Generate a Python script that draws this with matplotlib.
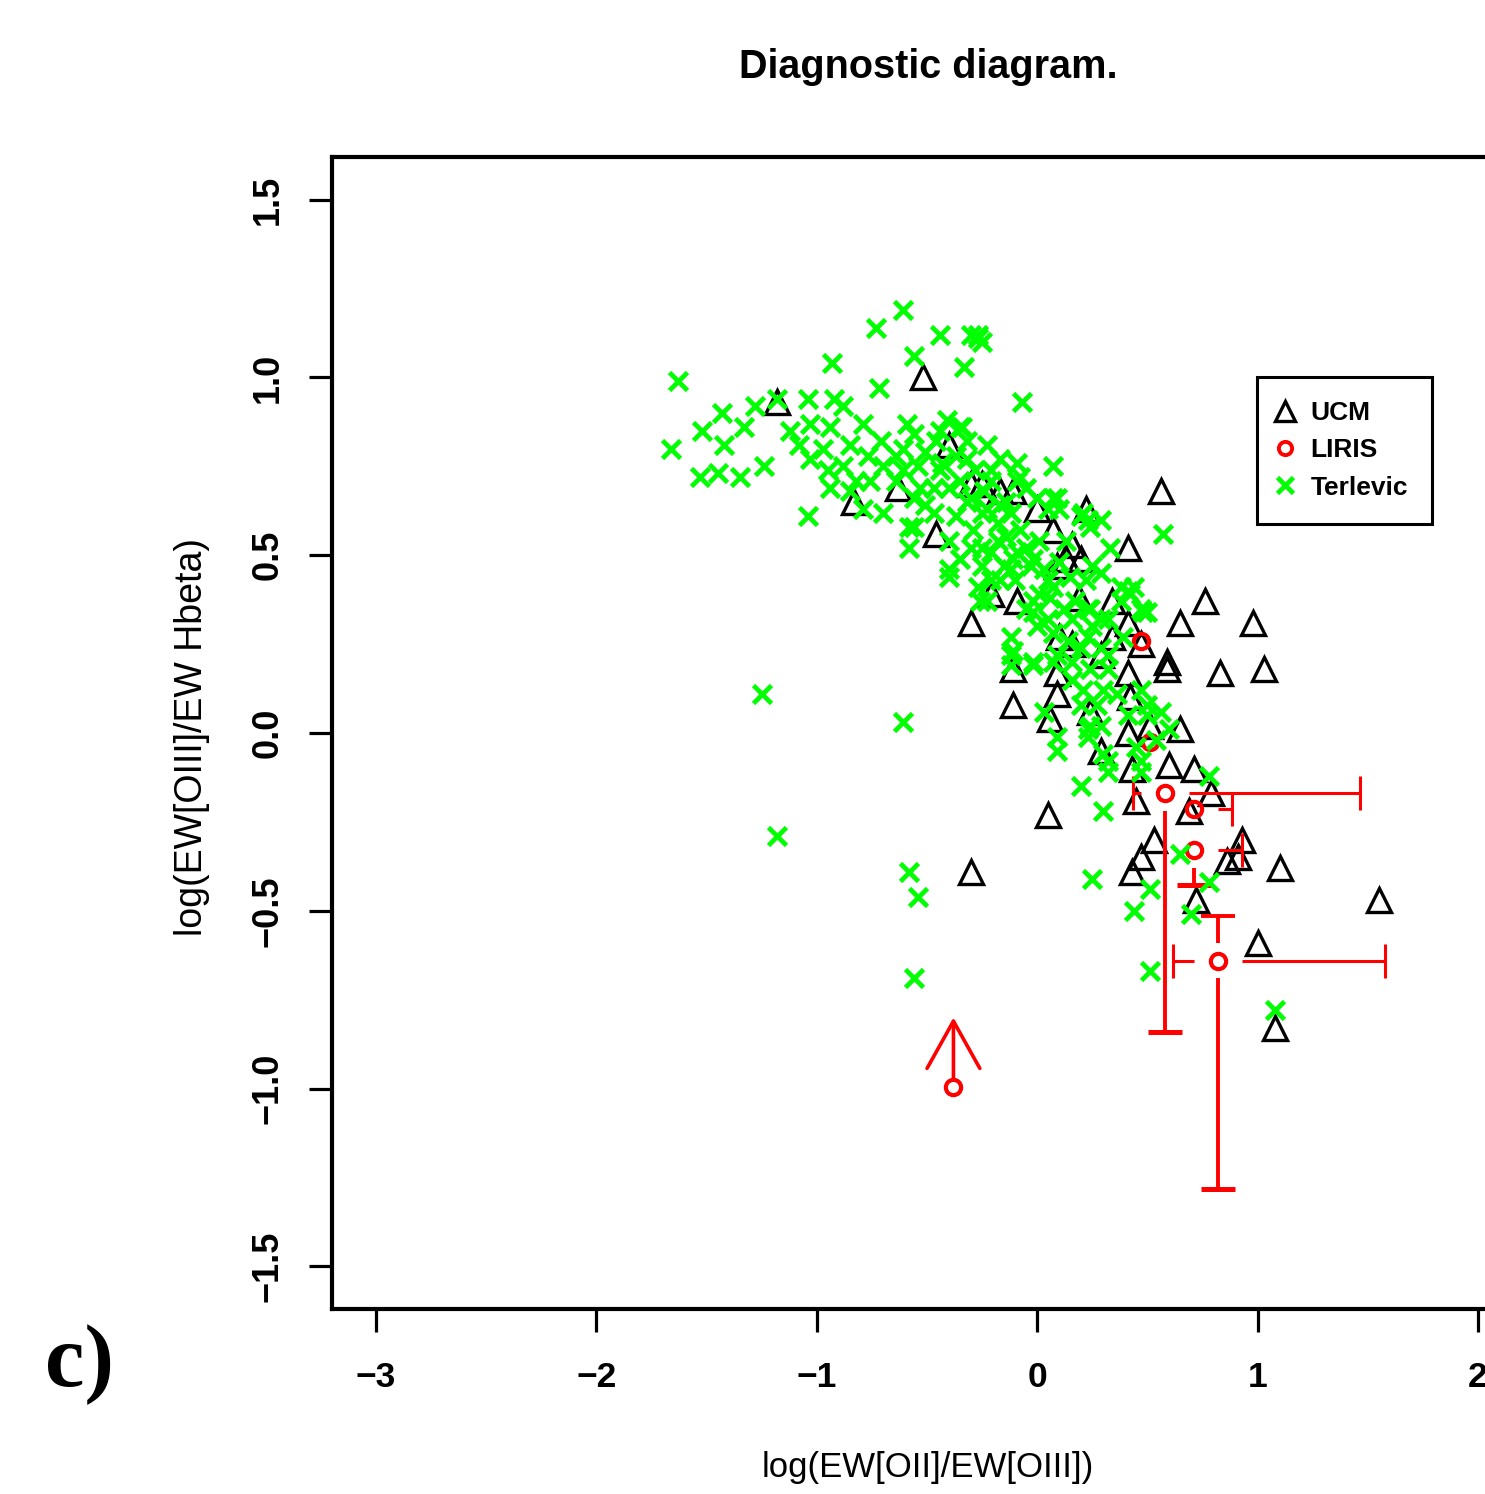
import numpy as np
import matplotlib
matplotlib.use("Agg")
import matplotlib.pyplot as plt
from matplotlib.lines import Line2D
from matplotlib.patches import ArrowStyle
from matplotlib import font_manager as fm

# ---------------- data ----------------
ucm_x = [-0.52, -1.18, -0.83, -0.63, -0.40, -0.46, -0.30, -0.25, -0.11, 0.00,
         0.22, 0.56, 0.41, 0.07, 0.16, 0.20, 0.09, 0.13, -0.09, 0.19,
         0.34, 0.76, 0.65, 0.41, 0.98, -0.30, 0.47, 0.59, 0.59, 0.83,
         1.03, -0.11, 0.09, 0.41, 0.09, -0.11, 0.42, 0.24, 0.06, 0.65,
         0.41, 0.51, 0.29, 0.60, 0.71, 0.43, 0.45, 0.05, 0.79, 0.69,
         0.53, 0.47, 0.43, 0.93, 0.91, 0.86, 1.10, 0.72, 1.00, 1.08,
         1.55, -0.30, 0.10, 0.34, 0.16, 0.29, -0.21, -0.17]
ucm_y = [1.00, 0.93, 0.65, 0.69, 0.81, 0.56, 0.70, 0.70, 0.68, 0.63,
         0.63, 0.68, 0.52, 0.57, 0.53, 0.49, 0.47, 0.49, 0.37, 0.38,
         0.37, 0.37, 0.31, 0.31, 0.31, 0.31, 0.25, 0.20, 0.18, 0.17,
         0.18, 0.18, 0.17, 0.17, 0.11, 0.08, 0.10, 0.06, 0.04, 0.01,
         0.00, 0.02, -0.05, -0.09, -0.10, -0.10, -0.19, -0.23, -0.17, -0.22,
         -0.30, -0.35, -0.39, -0.30, -0.35, -0.36, -0.38, -0.47, -0.59, -0.83,
         -0.47, -0.39, 0.27, 0.27, 0.25, 0.22, 0.39, 0.68]

nan = np.nan
liris_x = [0.47, 0.51, 0.58, 0.71, 0.71, 0.82]
liris_y = [0.26, -0.025, -0.17, -0.215, -0.33, -0.64]
liris_xlo = [nan, nan, 0.435, nan, nan, 0.616]
liris_xhi = [nan, nan, 1.465, 0.884, 0.93, 1.578]
liris_ylo = [nan, nan, -0.842, nan, -0.427, -1.283]
liris_yhi = [nan, nan, nan, nan, nan, -0.516]
# LIRIS point with a lower limit (arrow)
liris_lim_x = [-0.38]
liris_lim_y = [-0.995]
liris_lim_to = [-0.80]

terl_x = [-1.63, -1.66, -1.52, -1.43, -1.42, -1.53, -1.45, -1.35, -1.33, -1.24,
          -1.28, -1.18, -1.04, -0.92, -0.88, -1.04, -1.12, -1.03, -0.94, -0.97,
          -1.08, -1.03, -0.95, -0.85, -0.79, -0.77, -0.82, -0.70, -0.59, -0.61,
          -0.64, -0.54, -0.56, -0.47, -0.41, -0.34, -0.43, -0.32, -0.23, -0.40,
          -0.21, -0.30, -0.21, -0.09, 0.07, -0.08, -0.25, -0.12, 0.00, 0.09,
          0.21, 0.24, -0.47, -0.58, -0.40, -0.30, -0.18, -0.09, -0.25, -0.15,
          -0.03, -0.40, 0.10, 0.25, -0.58, -0.70, -0.85, -0.79, -0.94, -0.88,
          -1.25, -1.18, -0.61, -0.58, -0.54, -0.56, -0.93, -0.73, -0.61, -0.56,
          -0.44, -0.33, -0.30, -0.27, -0.25, -0.27, -0.72, -0.07, -0.40, 0.57,
          -0.56, -0.44, -0.35, -0.32, -0.09, -0.14, -0.05, 0.07, 0.10, 0.20,
          0.29, 0.33, 0.29, 0.38, 0.42, 0.48, -0.56, -0.53, -0.61, -0.44,
          -0.35, -0.32, -0.23, -0.29, -0.18, -0.25, -0.14, -0.11, -0.05, -0.02,
          0.03, 0.07, 0.01, -0.27, -0.26, -0.21, -0.17, -0.05, -0.02, 0.05,
          0.07, 0.16, 0.23, 0.25, 0.32, 0.38, 0.44, 0.47, -0.12, -0.12,
          -0.02, 0.09, 0.20, 0.32, -0.21, -0.12, 0.05, 0.41, -0.23, -0.02,
          0.06, 0.12, 0.24, 0.29, 0.50, -0.11, 0.00, 0.14, 0.23, 0.29,
          0.39, -0.02, 0.07, 0.16, 0.24, 0.32, 0.16, 0.21, 0.30, 0.20,
          0.27, 0.36, 0.47, 0.50, 0.41, 0.50, 0.56, 0.60, 0.24, 0.29,
          0.09, 0.09, 0.23, 0.30, 0.32, 0.45, 0.47, 0.47, 0.78, 0.20,
          0.30, 0.23, 0.32, 0.54, 0.65, 0.25, 0.51, 0.44, 0.78, 0.70,
          0.51, 1.08, 0.03, 0.05, 0.23, -0.51, -0.46, -0.37, -0.28, -0.24,
          -0.17, -0.64, -0.71, -0.76, -0.51, -0.37, -0.17, -0.08, 0.01, 0.13,
          0.15, -0.10, -0.35, 0.22, 0.17, -0.12]
terl_y = [0.99, 0.80, 0.85, 0.90, 0.81, 0.72, 0.73, 0.72, 0.86, 0.75,
          0.92, 0.94, 0.94, 0.94, 0.92, 0.61, 0.85, 0.87, 0.86, 0.80,
          0.81, 0.77, 0.74, 0.81, 0.87, 0.78, 0.71, 0.75, 0.87, 0.80,
          0.71, 0.75, 0.66, 0.69, 0.88, 0.86, 0.76, 0.77, 0.81, 0.69,
          0.74, 0.66, 0.71, 0.76, 0.75, 0.72, 0.62, 0.62, 0.66, 0.66,
          0.62, 0.58, 0.62, 0.58, 0.54, 0.52, 0.54, 0.51, 0.47, 0.47,
          0.47, 0.46, 0.48, 0.47, 0.52, 0.62, 0.68, 0.63, 0.69, 0.75,
          0.11, -0.29, 0.03, -0.39, -0.46, -0.69, 1.04, 1.14, 1.19, 1.06,
          1.12, 1.03, 1.12, 1.12, 1.10, 1.11, 0.97, 0.93, 0.44, 0.56,
          0.84, 0.85, 0.86, 0.82, 0.71, 0.65, 0.69, 0.66, 0.63, 0.61,
          0.60, 0.52, 0.45, 0.41, 0.39, 0.34, 0.58, 0.69, 0.74, 0.74,
          0.71, 0.65, 0.63, 0.57, 0.59, 0.52, 0.55, 0.49, 0.52, 0.49,
          0.46, 0.41, 0.39, 0.41, 0.37, 0.51, 0.43, 0.35, 0.34, 0.32,
          0.28, 0.32, 0.35, 0.30, 0.32, 0.37, 0.41, 0.35, 0.27, 0.22,
          0.20, 0.22, 0.24, 0.22, 0.43, 0.46, 0.43, 0.40, 0.37, 0.37,
          0.38, 0.35, 0.35, 0.32, 0.34, 0.23, 0.30, 0.26, 0.27, 0.24,
          0.27, 0.19, 0.20, 0.20, 0.18, 0.18, 0.15, 0.12, 0.12, 0.08,
          0.08, 0.11, 0.12, 0.08, 0.05, 0.05, 0.06, 0.01, 0.02, 0.02,
          -0.01, -0.05, -0.01, -0.06, -0.11, -0.04, -0.08, -0.11, -0.12, -0.15,
          -0.22, 0.01, -0.08, -0.02, -0.34, -0.41, -0.44, -0.50, -0.42, -0.51,
          -0.67, -0.78, 0.06, 0.63, 0.60, 0.79, 0.82, 0.78, 0.74, 0.68,
          0.77, 0.78, 0.82, 0.71, 0.64, 0.61, 0.64, 0.57, 0.54, 0.54,
          0.44, 0.43, 0.49, 0.43, 0.37, 0.19]

x_ticks = [-3, -2, -1, 0, 1, 2]
y_ticks = [-1.5, -1.0, -0.5, 0.0, 0.5, 1.0, 1.5]
legend_labels = ["UCM", "LIRIS", "Terlevic"]
title_text = "Diagnostic diagram."
xlabel_text = "log(EW[OII]/EW[OIII])"
ylabel_text = "log(EW[OIII]/EW Hbeta)"
panel_text = "c)"

# ---------------- fonts ----------------
files = [f.fname for f in fm.fontManager.ttflist]


def find_font(name):
    for p in files:
        if p.split("/")[-1].lower() == name.lower():
            return p
    return None


nar_b = find_font("LiberationSansNarrow-Bold.ttf")
nar_r = find_font("LiberationSansNarrow-Regular.ttf")
narrow = nar_b is not None and nar_r is not None


def fp(size_narrow, size_plain, bold=True):
    if narrow:
        return fm.FontProperties(fname=nar_b if bold else nar_r, size=size_narrow)
    return fm.FontProperties(family=["Liberation Sans", "DejaVu Sans"],
                             weight="bold" if bold else "normal", size=size_plain)


serif = "Liberation Serif"

RED = "#ff0000"
GREEN = "#00ff00"

W, H = 1485, 1494
fig = plt.figure(figsize=(W / 100, H / 100), dpi=100)
fig.patch.set_facecolor("white")
L, R, T, B = 332, 1522, 157, 1309
ax = fig.add_axes([L / W, 1 - B / H, (R - L) / W, (B - T) / H])
ax.set_xlim(-3.2, 2.2)
ax.set_ylim(-1.62, 1.62)

for sp in ax.spines.values():
    sp.set_linewidth(3.0)
ax.set_xticks(x_ticks)
ax.set_yticks(y_ticks)
ax.tick_params(axis="both", direction="out", length=16.5, width=2.3)
ax.tick_params(axis="x", pad=21)
ax.tick_params(axis="y", pad=17, labelrotation=90)
for lab in ax.get_xticklabels():
    lab.set_fontproperties(fp(30, 25.5))
for lab in ax.get_yticklabels():
    lab.set_fontproperties(fp(30, 26))
    lab.set_va("center")

# UCM triangles
ax.plot(ucm_x, ucm_y, ls="none", marker="^", ms=17, mfc="none", mec="black",
        mew=2.4, zorder=3)

# LIRIS with gapped error bars (plotCI style)
gx, gy = 0.11, 0.05
lw_h, lw_v = 2.2, 2.8
for x, y, xl, xh, yl, yh in zip(liris_x, liris_y, liris_xlo, liris_xhi, liris_ylo, liris_yhi):
    if not np.isnan(xl) and x - xl > gx:
        ax.plot([xl, x - gx], [y, y], color=RED, lw=lw_h, solid_capstyle="butt", zorder=4)
        ax.plot([xl], [y], marker="|", ms=24, mew=lw_h, color=RED, zorder=4)
    if not np.isnan(xh) and xh - x > gx:
        ax.plot([x + gx, xh], [y, y], color=RED, lw=lw_h, solid_capstyle="butt", zorder=4)
        ax.plot([xh], [y], marker="|", ms=24, mew=lw_h, color=RED, zorder=4)
    if not np.isnan(yl) and y - yl > gy:
        ax.plot([x, x], [yl, y - gy], color=RED, lw=lw_v, solid_capstyle="butt", zorder=4)
        ax.plot([x], [yl], marker="_", ms=24, mew=lw_v + 0.8, color=RED, zorder=4)
    if not np.isnan(yh) and yh - y > gy:
        ax.plot([x, x], [y + gy, yh], color=RED, lw=lw_v, solid_capstyle="butt", zorder=4)
        ax.plot([x], [yh], marker="_", ms=24, mew=lw_v, color=RED, zorder=4)
ax.plot(liris_x, liris_y, ls="none", marker="o", ms=11, mfc="none", mec=RED,
        mew=3.0, zorder=4)

# LIRIS limit with arrow
ax.plot(liris_lim_x, liris_lim_y, ls="none", marker="o", ms=11, mfc="none",
        mec=RED, mew=3.0, zorder=4)
for x, y, yt in zip(liris_lim_x, liris_lim_y, liris_lim_to):
    ax.annotate("", xy=(x, yt), xytext=(x, y + 0.02),
                arrowprops=dict(arrowstyle=ArrowStyle("->", head_length=34, head_width=19),
                                mutation_scale=1, color=RED, lw=2.6,
                                shrinkA=0, shrinkB=0), zorder=4)

# Terlevich crosses
ax.plot(terl_x, terl_y, ls="none", marker="x", ms=12.5, mec=GREEN, mew=3.4, zorder=5)

# legend
handles = [
    Line2D([], [], ls="none", marker="^", ms=14, mfc="none", mec="black", mew=2.4),
    Line2D([], [], ls="none", marker="o", ms=9.5, mfc="none", mec=RED, mew=2.8),
    Line2D([], [], ls="none", marker="x", ms=11, mec=GREEN, mew=3.4),
]
leg = ax.legend(handles, legend_labels, loc="upper left",
                bbox_to_anchor=((1257 - L) / (R - L), (B - 377) / (B - T)),
                borderaxespad=0, fancybox=False, framealpha=1, edgecolor="black",
                prop=fp(23, 19), handlelength=0.3, handletextpad=0.8,
                labelspacing=0.5, borderpad=0.92)
leg.get_frame().set_linewidth(2.2)
leg.set_zorder(10)

# texts
fig.text(928 / W, 1 - 67 / H, title_text, ha="center", va="center",
         fontproperties=fp(35, 28.5))
fig.text(928 / W, 1 - 1468 / H, xlabel_text, ha="center", va="center",
         fontproperties=fp(30, 25, bold=False))
fig.text(192 / W, 1 - 737 / H, ylabel_text, ha="center", va="center",
         rotation=90, fontproperties=fp(32, 27, bold=False))
fig.text(80 / W, 1 - 1365 / H, panel_text, ha="center", va="center",
         family=[serif, "DejaVu Serif"], fontweight="bold", fontsize=64)

fig.savefig("out.png", dpi=100, facecolor="white")
